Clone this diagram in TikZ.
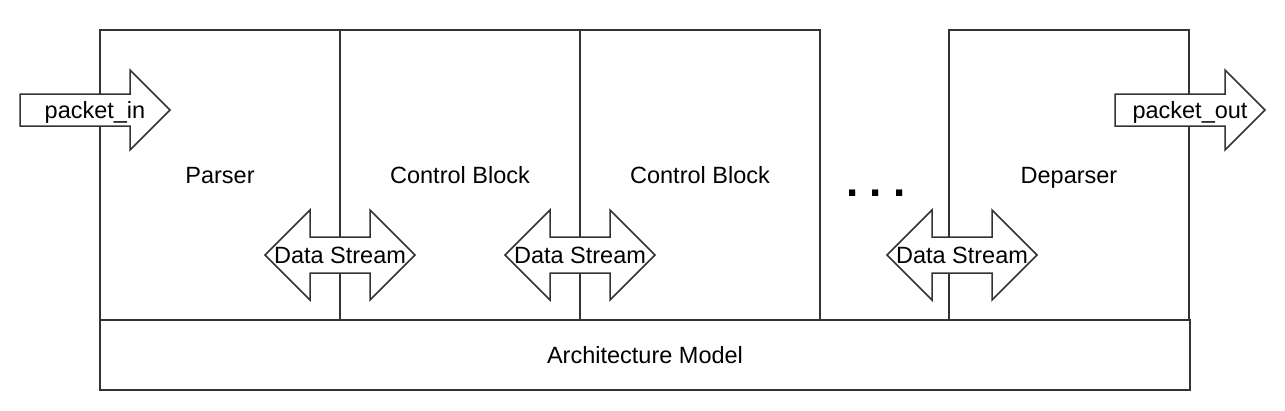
\documentclass[tikz,border=0pt]{standalone}
\usepackage{fontspec}
\setmainfont{Liberation Sans}
\usetikzlibrary{positioning}
\definecolor{liniengrau}{HTML}{333333}

\begin{document}
\begin{tikzpicture}
	[
	x=1pt, y=-1pt, font=\fontsize{23.5}{28}\selectfont,
	%Voreinstellungen
	every node/.style={text height=21.5pt, text depth=4.7pt, inner sep=0pt, outer sep=0pt},
	block/.style={draw=liniengrau, line width=1.5pt, minimum width=240pt, minimum height=290pt},
	pfeil/.style={draw=liniengrau, fill=white, line width=1.5pt, line join=miter}
	]
	\useasboundingbox (0,0) rectangle (1285,410);
	%Bloecke
	\node[block, anchor=north west] (parser) at (100,30) {Parser};
	\node[block, right=0pt of parser] (cb1) {Control Block};
	\node[block, right=0pt of cb1] (cb2) {Control Block};
	\node[block, right=129pt of cb2] (deparser) {Deparser};
	\node[block, anchor=north west, minimum width=1090pt, minimum height=70pt] (arch) at (parser.south west) {Architecture Model};
	\node[anchor=base, font=\fontsize{44}{50}\selectfont\bfseries] (dots) at (876,196) {.\hspace{11pt}.\hspace{11pt}.};
	%Ein- und Ausgang
	\draw[pfeil] (20,94) -- ++(110,0) -- ++(0,-24) -- ++(40,40) -- ++(-40,40) -- ++(0,-24) -- ++(-110,0) -- cycle;
	\node (pin) at (95,110) {packet\_in};
	\draw[pfeil] (1115,94) -- ++(110,0) -- ++(0,-24) -- ++(40,40) -- ++(-40,40) -- ++(0,-24) -- ++(-110,0) -- cycle;
	\node (pout) at (1190,110) {packet\_out};
	%Datenstroeme
	\foreach \mx/\name in {340/ds1, 580/ds2, 962/ds3}
	{
		\draw[pfeil] (\mx-75,255) -- ++(45,-45) -- ++(0,27) -- ++(60,0) -- ++(0,-27) -- ++(45,45) -- ++(-45,45) -- ++(0,-27) -- ++(-60,0) -- ++(0,27) -- cycle;
		\node (\name) at (\mx,255) {Data Stream};
	}
\end{tikzpicture}
\end{document}
